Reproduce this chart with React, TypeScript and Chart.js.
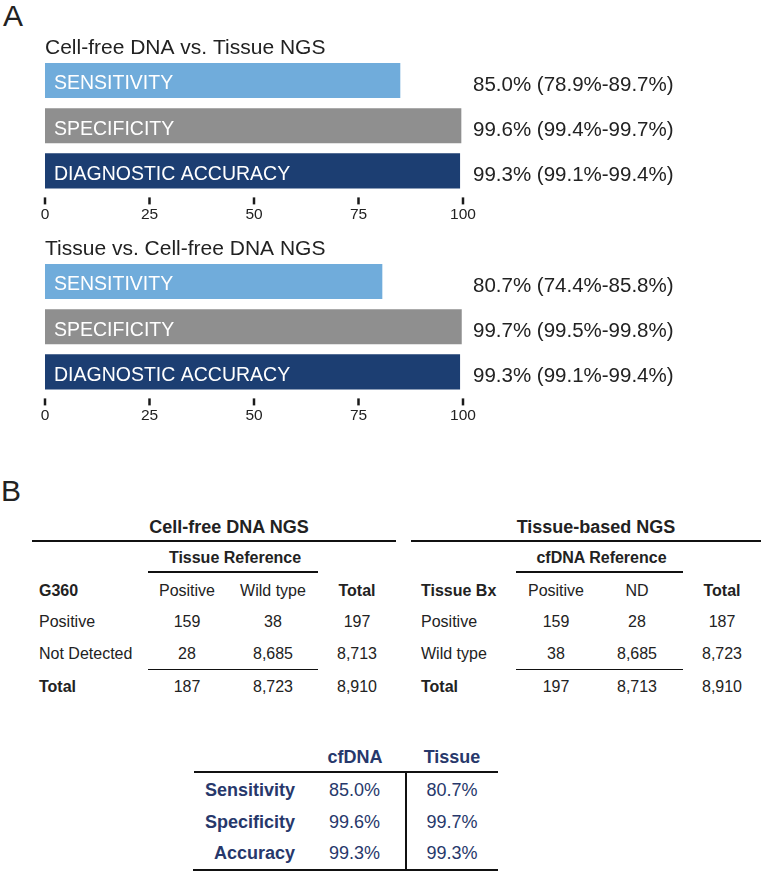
import React, { useEffect, useRef } from 'react';
import { Chart, registerables } from 'chart.js';

Chart.register(...registerables);

const FONT = "'Liberation Sans', Arial, Helvetica, sans-serif";
const TEXT = '#222222';
const NAVY_TEXT = '#27386b';

// ---------- Panel A data ----------
const metricLabels = ['SENSITIVITY', 'SPECIFICITY', 'DIAGNOSTIC ACCURACY'];
const barColors = ['#70acdb', '#8f8f8f', '#1c3e72'];
const xTicks = [0, 25, 50, 75, 100];

const cfdnaTitle = 'Cell-free DNA vs. Tissue NGS';
const cfdnaValues = [85.0, 99.6, 99.3];
const cfdnaCI = ['85.0% (78.9%-89.7%)', '99.6% (99.4%-99.7%)', '99.3% (99.1%-99.4%)'];

const tissueTitle = 'Tissue vs. Cell-free DNA NGS';
const tissueValues = [80.7, 99.7, 99.3];
const tissueCI = ['80.7% (74.4%-85.8%)', '99.7% (99.5%-99.8%)', '99.3% (99.1%-99.4%)'];

// ---------- Panel B data ----------
const cfTableTitle = 'Cell-free DNA NGS';
const cfTableRef = 'Tissue Reference';
const cfHeader = ['G360', 'Positive', 'Wild type', 'Total'];
const cfRows = [
  ['Positive', '159', '38', '197'],
  ['Not Detected', '28', '8,685', '8,713'],
  ['Total', '187', '8,723', '8,910'],
];

const tisTableTitle = 'Tissue-based NGS';
const tisTableRef = 'cfDNA Reference';
const tisHeader = ['Tissue Bx', 'Positive', 'ND', 'Total'];
const tisRows = [
  ['Positive', '159', '28', '187'],
  ['Wild type', '38', '8,685', '8,723'],
  ['Total', '197', '8,713', '8,910'],
];

const summaryCols = ['cfDNA', 'Tissue'];
const summaryRows = ['Sensitivity', 'Specificity', 'Accuracy'];
const summaryCfdna = ['85.0%', '99.6%', '99.3%'];
const summaryTissue = ['80.7%', '99.7%', '99.3%'];

// ---------- chart panel ----------
function BarPanel({ top, title, values, ci }: { top: number; title: string; values: number[]; ci: string[] }) {
  const ref = useRef<HTMLCanvasElement | null>(null);
  useEffect(() => {
    if (!ref.current) return;
    const textPlugin = {
      id: 'barText',
      afterDatasetsDraw(chart: any) {
        const ctx = chart.ctx;
        const meta = chart.getDatasetMeta(0);
        const area = chart.chartArea;
        ctx.save();
        meta.data.forEach((bar: any, i: number) => {
          const cy = bar.y;
          ctx.textAlign = 'left';
          ctx.textBaseline = 'alphabetic';
          ctx.font = `19.5px ${FONT}`;
          ctx.fillStyle = '#ffffff';
          ctx.fillText(chart.data.labels[i], bar.base + 9, cy + 8.8);
          ctx.font = `20.5px ${FONT}`;
          ctx.fillStyle = TEXT;
          ctx.fillText(ci[i], area.right + 10, cy + 10.3);
        });
        const xs = chart.scales.x;
        ctx.strokeStyle = '#1a1a1a';
        ctx.lineWidth = 2.5;
        xs.ticks.forEach((_t: any, i: number) => {
          const x = xs.getPixelForTick(i);
          ctx.beginPath();
          ctx.moveTo(x, area.bottom + 4);
          ctx.lineTo(x, area.bottom + 11);
          ctx.stroke();
        });
        ctx.restore();
      },
    };
    const chart = new Chart(ref.current, {
      type: 'bar',
      data: {
        labels: metricLabels,
        datasets: [
          {
            data: values,
            backgroundColor: barColors,
            borderWidth: 0,
            categoryPercentage: 1,
            barPercentage: 35 / 45,
          },
        ],
      },
      options: {
        indexAxis: 'y',
        responsive: false,
        animation: false,
        layout: { padding: { left: 45, right: 298, top: 0, bottom: 0 } },
        plugins: {
          legend: { display: false },
          tooltip: { enabled: false },
          title: {
            display: true,
            text: title,
            align: 'start',
            color: TEXT,
            font: { family: FONT, size: 21, weight: 'normal', lineHeight: 20 / 21 },
            padding: { top: 0, bottom: 0 },
          },
        },
        scales: {
          y: { display: false, offset: true },
          x: {
            min: 0,
            max: 100,
            afterBuildTicks: (s: any) => {
              s.ticks = xTicks.map((v) => ({ value: v }));
            },
            grid: { display: false, drawTicks: false },
            border: { display: false },
            ticks: {
              color: TEXT,
              padding: 12,
              maxRotation: 0,
              autoSkip: false,
              font: { family: FONT, size: 15.5 },
            },
          },
        },
      },
      plugins: [textPlugin],
    } as any);
    return () => chart.destroy();
  }, []);
  return (
    <canvas
      ref={ref}
      width={761}
      height={198}
      style={{ position: 'absolute', left: 0, top, width: 761, height: 198 }}
    />
  );
}

// ---------- helpers ----------
function T({
  x,
  y,
  children,
  align = 'center',
  bold = false,
  size = 16,
  color = TEXT,
}: {
  x: number;
  y: number;
  children: any;
  align?: 'left' | 'center' | 'right';
  bold?: boolean;
  size?: number;
  color?: string;
}) {
  const style: any = {
    position: 'absolute',
    top: y - size / 2,
    fontSize: size,
    lineHeight: `${size}px`,
    fontWeight: bold ? 700 : 400,
    color,
    whiteSpace: 'nowrap',
    fontFamily: FONT,
  };
  if (align === 'center') {
    style.left = x;
    style.transform = 'translateX(-50%)';
  } else if (align === 'left') {
    style.left = x;
  } else {
    style.right = 761 - x;
  }
  return <div style={style}>{children}</div>;
}

function HL({ x1, x2, y, w = 2 }: { x1: number; x2: number; y: number; w?: number }) {
  return <div style={{ position: 'absolute', left: x1, top: y - w / 2, width: x2 - x1, height: w, background: '#111' }} />;
}
function VL({ x, y1, y2, w = 2 }: { x: number; y1: number; y2: number; w?: number }) {
  return <div style={{ position: 'absolute', left: x - w / 2, top: y1, width: w, height: y2 - y1, background: '#111' }} />;
}

function ContTable({
  titleX,
  title,
  refX,
  refLabel,
  ruleX1,
  ruleX2,
  subX1,
  subX2,
  labelX,
  cols,
  header,
  rows,
}: any) {
  const rowYs = [591, 622, 654, 687];
  return (
    <>
      <T x={titleX} y={526.5} bold size={18}>{title}</T>
      <HL x1={ruleX1} x2={ruleX2} y={541} w={2} />
      <T x={refX} y={557.5} bold size={16}>{refLabel}</T>
      <HL x1={subX1} x2={subX2} y={572} w={1.5} />
      <HL x1={subX1} x2={subX2} y={669.5} w={1.5} />
      <T x={labelX} y={rowYs[0]} align="left" bold size={16}>{header[0]}</T>
      <T x={cols[0]} y={rowYs[0]} size={16}>{header[1]}</T>
      <T x={cols[1]} y={rowYs[0]} size={16}>{header[2]}</T>
      <T x={cols[2]} y={rowYs[0]} bold size={16}>{header[3]}</T>
      {rows.map((r: string[], i: number) => (
        <React.Fragment key={i}>
          <T x={labelX} y={rowYs[i + 1]} align="left" bold={i === rows.length - 1} size={16}>{r[0]}</T>
          <T x={cols[0]} y={rowYs[i + 1]} size={16}>{r[1]}</T>
          <T x={cols[1]} y={rowYs[i + 1]} size={16}>{r[2]}</T>
          <T x={cols[2]} y={rowYs[i + 1]} size={16}>{r[3]}</T>
        </React.Fragment>
      ))}
    </>
  );
}

export default function App() {
  const sumYs = [790, 821.5, 853];
  return (
    <div
      style={{
        position: 'absolute',
        left: 0,
        top: 0,
        width: 761,
        height: 871,
        background: '#ffffff',
        overflow: 'hidden',
        fontFamily: FONT,
      }}
    >
      <T x={3} y={15.5} align="left" size={30}>A</T>
      <BarPanel top={38} title={cfdnaTitle} values={cfdnaValues} ci={cfdnaCI} />
      <BarPanel top={239} title={tissueTitle} values={tissueValues} ci={tissueCI} />

      <T x={1} y={490.5} align="left" size={30}>B</T>
      <ContTable
        titleX={229}
        title={cfTableTitle}
        refX={235}
        refLabel={cfTableRef}
        ruleX1={32}
        ruleX2={396}
        subX1={148}
        subX2={318}
        labelX={39}
        cols={[187, 273, 357]}
        header={cfHeader}
        rows={cfRows}
      />
      <ContTable
        titleX={596}
        title={tisTableTitle}
        refX={601.5}
        refLabel={tisTableRef}
        ruleX1={411}
        ruleX2={761}
        subX1={516}
        subX2={683}
        labelX={421}
        cols={[556, 637, 722]}
        header={tisHeader}
        rows={tisRows}
      />

      <T x={355} y={757} bold size={18} color={NAVY_TEXT}>{summaryCols[0]}</T>
      <T x={452} y={757} bold size={18} color={NAVY_TEXT}>{summaryCols[1]}</T>
      <HL x1={194} x2={498} y={772} w={2} />
      <VL x={406} y1={772} y2={869} w={2} />
      <HL x1={193} x2={498} y={869.5} w={2} />
      {summaryRows.map((r, i) => (
        <React.Fragment key={r}>
          <T x={295} y={sumYs[i]} align="right" bold size={18} color={NAVY_TEXT}>{r}</T>
          <T x={354.5} y={sumYs[i]} size={18} color={NAVY_TEXT}>{summaryCfdna[i]}</T>
          <T x={452} y={sumYs[i]} size={18} color={NAVY_TEXT}>{summaryTissue[i]}</T>
        </React.Fragment>
      ))}
    </div>
  );
}
